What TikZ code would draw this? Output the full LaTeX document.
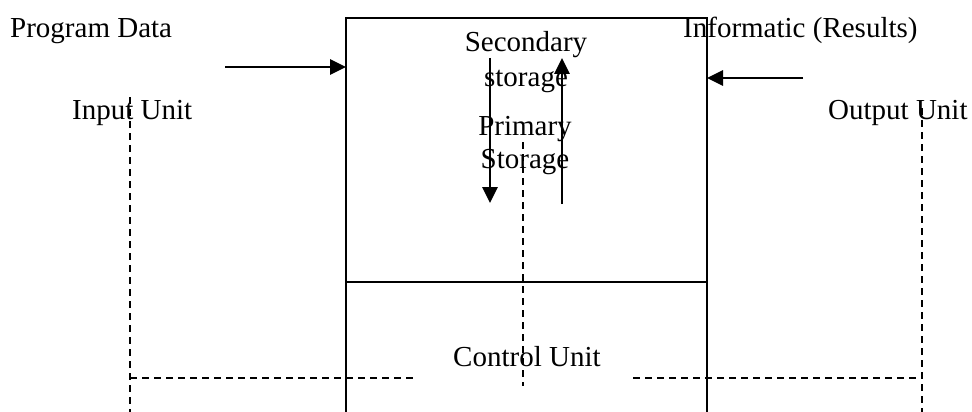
\documentclass[tikz,border=0pt]{standalone}
\usepackage{fontspec}
\setmainfont{Liberation Serif}
\usetikzlibrary{arrows.meta}
\begin{document}
\begin{tikzpicture}[x=1pt,y=-1pt,
  lbl/.style={inner sep=0pt,anchor=base west,font=\fontsize{29}{33}\selectfont},
  clbl/.style={inner sep=0pt,anchor=base,font=\fontsize{29}{33}\selectfont},
  boxline/.style={line width=2pt},
  flow/.style={line width=2.8pt,-{Triangle[length=16pt,width=15pt]}},
  dsh/.style={line width=1.7pt,dash pattern=on 7pt off 5pt}]
\useasboundingbox (0,0) rectangle (972,412);
% box
\coordinate (bl) at (346,412);
\coordinate (tl) at (346,18);
\coordinate (tr) at (707,18);
\coordinate (br) at (707,412);
\coordinate (dl) at (346,282);
\coordinate (dr) at (707,282);
\draw[boxline] (bl) -- (tl) -- (tr) -- (br);
\draw[boxline] (dl) -- (dr);
% labels
\node[lbl] (pd) at (10,38) {Program Data};
\node[lbl] (inf) at (683,38) {Informatic (Results)};
\node[lbl] (iu) at (72,119) {Input Unit};
\node[lbl] (ou) at (828,119) {Output Unit};
\node[clbl] (sec1) at (526,52) {Secondary};
\node[clbl] (sec2) at (526,86) {storage};
\node[clbl] (pri1) at (525,135) {Primary};
\node[clbl] (pri2) at (525,168) {Storage};
\node[lbl] (cu) at (453,366) {Control Unit};
% input / output arrows
\coordinate (inS) at (225,67);
\coordinate (inE) at (346,67);
\coordinate (outS) at (803,78);
\coordinate (outE) at (707,78);
\draw[flow] (inS) -- (inE);
\draw[flow] (outS) -- (outE);
% storage arrows
\coordinate (dS) at (490,58);
\coordinate (dE) at (490,203);
\coordinate (uS) at (562,204);
\coordinate (uE) at (562,58);
\draw[flow] (dS) -- (dE);
\draw[flow] (uS) -- (uE);
% dashed lines
\coordinate (lv1) at (130,97);
\coordinate (lv2) at (130,412);
\coordinate (rv1) at (922,108);
\coordinate (rv2) at (922,412);
\coordinate (mv1) at (523,142);
\coordinate (mv2) at (523,386);
\coordinate (lh1) at (130,378);
\coordinate (lh2) at (417,378);
\coordinate (rh1) at (633,378);
\coordinate (rh2) at (922,378);
\draw[dsh] (lv1) -- (lv2);
\draw[dsh] (rv1) -- (rv2);
\draw[dsh] (mv1) -- (mv2);
\draw[dsh] (lh1) -- (lh2);
\draw[dsh] (rh1) -- (rh2);
\end{tikzpicture}
\end{document}
